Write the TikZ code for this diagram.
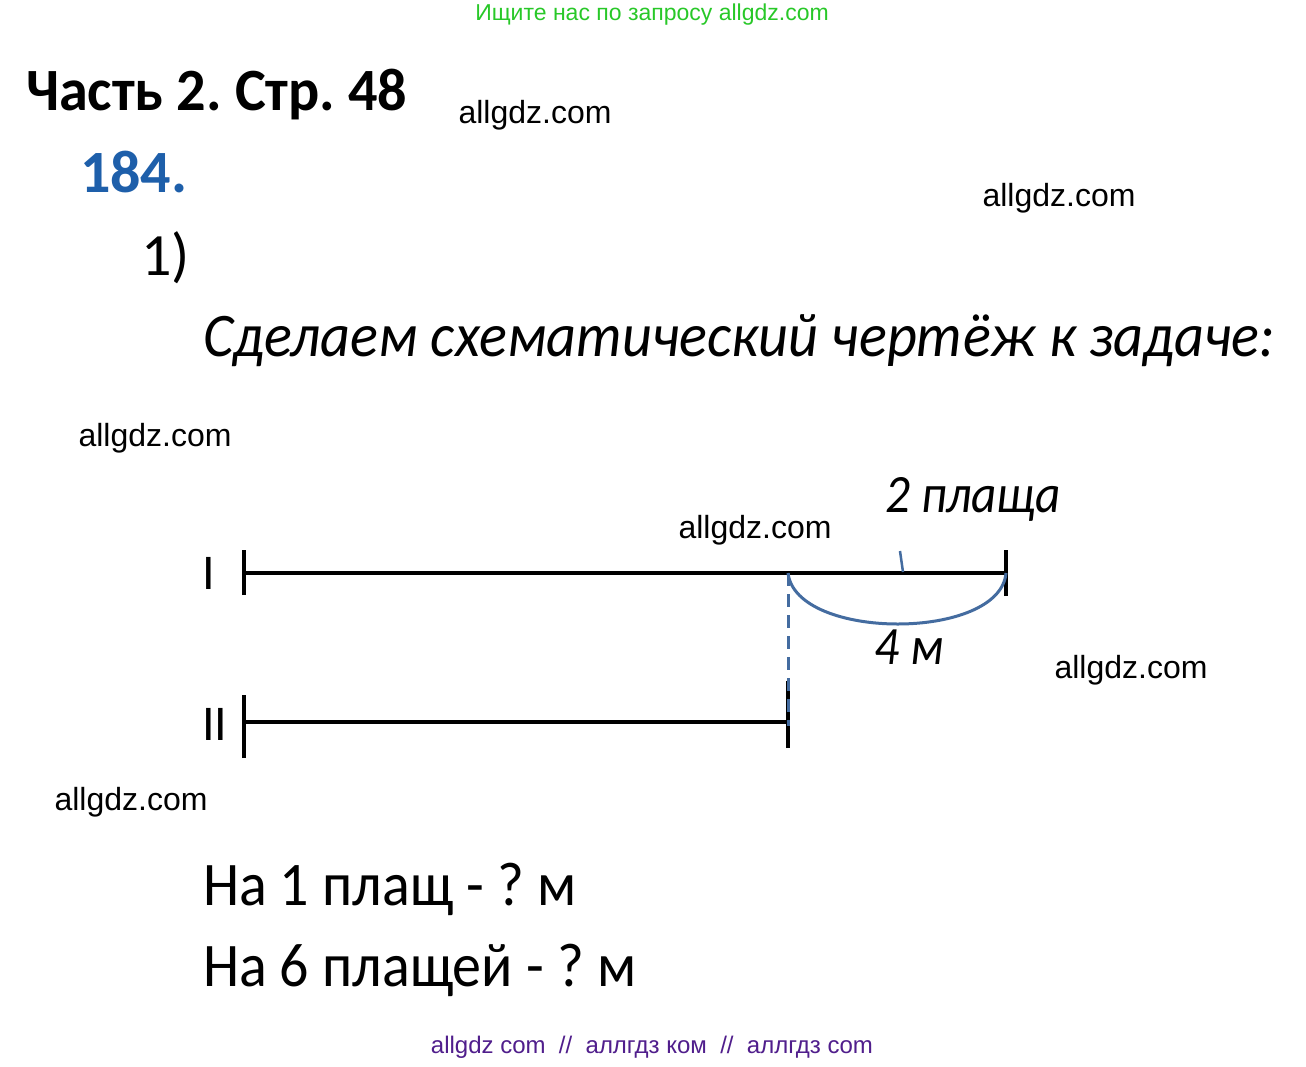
\documentclass[tikz,border=0pt]{standalone}
\usepackage{fontspec}
\setmainfont{Carlito}
\newfontfamily\wmfont{Liberation Sans}
\usepackage[dvipsnames]{xcolor}
\definecolor{numblue}{RGB}{30,95,170}
\definecolor{arcblue}{RGB}{68,108,160}
\definecolor{wmgreen}{RGB}{40,200,40}
\definecolor{wmpurple}{RGB}{80,30,140}
\frenchspacing
\newcommand{\narrowtext}[2][0.91]{\scalebox{#1}[1]{#2}}

\begin{document}
\begin{tikzpicture}[x=1pt,y=-1pt,line width=4pt,
  wm node/.style={inner sep=0pt,font=\wmfont\fontsize{32}{32}\selectfont},
  big node/.style={inner sep=0pt,anchor=base west,font=\fontsize{62}{62}\selectfont},
  it node/.style={inner sep=0pt,anchor=base west,font=\itshape\fontsize{54}{54}\selectfont}]

                    \useasboundingbox[fill=white] (0,0) rectangle (1306,1066);

                    % headings
                    \node[inner sep=0pt,text=wmgreen,font=\wmfont\fontsize{23}{23}\selectfont] (top) at (652,15) {Ищите нас по запросу allgdz.com};
                    \node[big node,font=\bfseries\fontsize{60}{60}\selectfont] (part) at (24,110) {\narrowtext[0.97]{Часть 2. Стр. 48}};
                    \node[big node,font=\bfseries\fontsize{60}{60}\selectfont,text=numblue] (num) at (78,192) {184.};
                    \node[big node,font=\fontsize{60}{60}\selectfont] (item) at (139,275) {1)};
                    \node[big node,font=\itshape\fontsize{62}{62}\selectfont] (task) at (201,356) {\narrowtext[0.939]{Сделаем схематический чертёж к задаче:}};

                    % watermarks
                    \node[wm node] (w1) at (535,115) {allgdz.com};
                    \node[wm node] (w2) at (1059,198) {allgdz.com};
                    \node[wm node] (w3) at (155,438) {allgdz.com};
                    \node[wm node] (w4) at (755,530) {allgdz.com};
                    \node[wm node] (w5) at (1131,670) {allgdz.com};
                    \node[wm node] (w6) at (131,802) {allgdz.com};

                    % segments
                    \coordinate (a1) at (244,573);
                    \coordinate (m1) at (788,573);
                    \coordinate (b1) at (1006,573);
                    \coordinate (a2) at (244,722);
                    \coordinate (b2) at (788,722);

                    \node[big node,font=\fontsize{50}{50}\selectfont] (one) at (200,589) {I};
                    \node[big node,font=\fontsize{50}{50}\selectfont] (two) at (200,740) {II};

                    \draw (a1) -- (b1);
                    \draw (a2) -- (b2);
                    \draw ([yshift=-22pt]a1) -- ([yshift=23pt]a1);
                    \draw ([yshift=-23pt]b1) -- ([yshift=23pt]b1);
                    \draw ([yshift=-36pt]a2) -- ([yshift=27pt]a2);
                    \draw ([yshift=-26pt]b2) -- ([yshift=41pt]b2);

                    \draw[arcblue,line width=3pt,dash pattern=on 13pt off 8pt] (m1) -- ([yshift=-4pt]b2);
                    \draw[arcblue,line width=3pt] (m1) .. controls (796,641) and (1000,641) .. (b1);

                    \node[it node] (two coats) at (883,512) {\narrowtext{2 плаща}};
                    \node[it node] (four m) at (872,664) {\narrowtext{4 м}};
                    \coordinate (tick) at (903,572);
                    \draw[arcblue,line width=2.5pt] (900,551) -- (tick);

                    % questions
                    \node[big node] (q1) at (201,905) {\narrowtext[0.935]{На 1 плащ - ? м}};
                    \node[big node] (q2) at (201,986) {\narrowtext[0.935]{На 6 плащей - ? м}};

                    \node[inner sep=0pt,text=wmpurple,font=\wmfont\fontsize{24}{24}\selectfont] (bottom) at (652,1047) {allgdz com\ \ //\ \ аллгдз ком\ \ //\ \ аллгдз com};
                \end{tikzpicture}
\end{document}
